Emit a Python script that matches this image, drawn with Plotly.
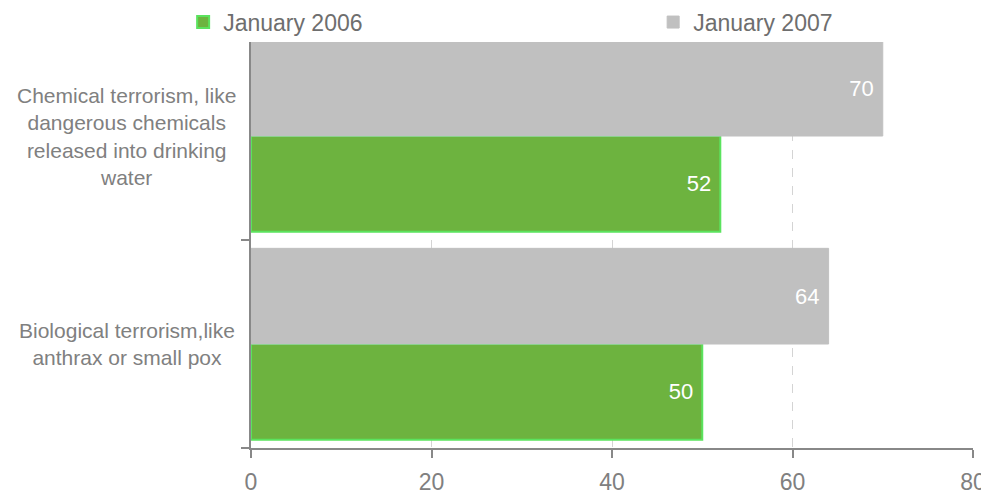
import plotly.graph_objects as go

categories = ["Biological terrorism,like<br>anthrax or small pox",
              "Chemical terrorism, like<br>dangerous chemicals<br>released into drinking<br>water"]
cat_keys = ["Biological", "Chemical"]
series_names = ["January 2006", "January 2007"]
values_2006 = [50, 52]
values_2007 = [64, 70]
x_ticks = [0, 20, 40, 60, 80]

FONT = "Liberation Sans, Arial, sans-serif"

fig = go.Figure()
fig.add_trace(go.Bar(
    y=cat_keys, x=values_2006, orientation="h", name=series_names[0],
    marker=dict(color="#6db33f", line=dict(color="#5be35e", width=2)),
    text=[str(v) for v in values_2006], texttemplate="%{text}\u00a0",
    textposition="inside", insidetextanchor="end",
    textfont=dict(color="white", size=22, family=FONT),
    legend="legend",
))
fig.add_trace(go.Bar(
    y=cat_keys, x=values_2007, orientation="h", name=series_names[1],
    marker=dict(color="#c0c0c0", line=dict(color="#c0c0c0", width=1)),
    text=[str(v) for v in values_2007], texttemplate="%{text}\u00a0",
    textposition="inside", insidetextanchor="end",
    textfont=dict(color="white", size=22, family=FONT),
    legend="legend2",
))

for key, label in zip(cat_keys, categories):
    fig.add_annotation(
        x=-0.172, xref="paper", y=key, yref="y", text=label, showarrow=False,
        xanchor="center", yanchor="middle", align="center",
        font=dict(size=21, color="#808080", family=FONT),
    )

legend_common = dict(orientation="h", xanchor="left", y=1.049, yanchor="middle",
                     font=dict(size=23, color="#6e6e6e", family=FONT), itemwidth=30,
                     bgcolor="rgba(0,0,0,0)")

fig.update_layout(
    width=981, height=487,
    margin=dict(l=243, r=16, t=34, b=47, autoexpand=False),
    paper_bgcolor="white", plot_bgcolor="white",
    barmode="group", bargap=0.08, bargroupgap=0,
    font=dict(family=FONT, color="#808080"),
    showlegend=True,
    legend=dict(x=-0.094, **legend_common),
    legend2=dict(x=0.557, **legend_common),
    xaxis=dict(range=[0, 80], tickvals=x_ticks, showgrid=True, gridcolor="#d4d4d4",
               griddash="dash", gridwidth=1, zeroline=False,
               showline=True, linecolor="#888888", linewidth=2,
               ticks="outside", ticklen=8, tickwidth=2, tickcolor="#888888",
               tickfont=dict(size=23, color="#808080", family=FONT), ticklabelstandoff=4),
    yaxis=dict(type="category", categoryorder="array", categoryarray=cat_keys,
               range=[-0.5, 1.452], showticklabels=False, showgrid=False,
               showline=True, linecolor="#888888", linewidth=2,
               ticks="outside", tickson="boundaries", ticklen=8, tickwidth=2,
               tickcolor="#888888", zeroline=False),
)

fig.write_html("out.html")
